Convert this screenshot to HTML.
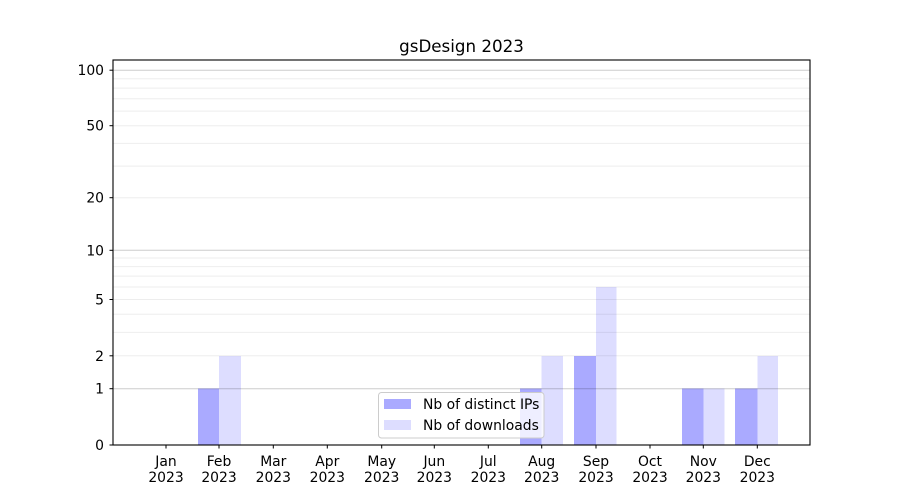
<!DOCTYPE html>
<html><head><meta charset="utf-8"><style>
html,body{margin:0;padding:0;background:#fff;}
svg{display:block;}
text{font-family:"DejaVu Sans","Liberation Sans",sans-serif;fill:#000;}
</style></head><body>
<svg width="900" height="500" viewBox="0 0 900 500" xmlns="http://www.w3.org/2000/svg">
<rect x="0" y="0" width="900" height="500" fill="#fff"/>
<!-- bars -->
<g shape-rendering="crispEdges">
<rect x="198" y="388.7" width="21" height="56.3" fill="#aaaaff"/>
<rect x="219" y="355.8" width="22" height="89.2" fill="#ddddff"/>
<rect x="520" y="388.7" width="21.7" height="56.3" fill="#aaaaff"/>
<rect x="541.7" y="355.8" width="21.3" height="89.2" fill="#ddddff"/>
<rect x="574" y="355.8" width="22" height="89.2" fill="#aaaaff"/>
<rect x="596" y="287" width="20.7" height="158" fill="#ddddff"/>
<rect x="682" y="388.7" width="21.3" height="56.3" fill="#aaaaff"/>
<rect x="703.3" y="388.7" width="21.4" height="56.3" fill="#ddddff"/>
<rect x="735" y="388.7" width="22.3" height="56.3" fill="#aaaaff"/>
<rect x="757.3" y="355.8" width="20.7" height="89.2" fill="#ddddff"/>
</g>
<!-- minor grid -->
<g stroke="#000" stroke-opacity="0.07" stroke-width="1">
<line x1="113" x2="810" y1="355.8" y2="355.8"/>
<line x1="113" x2="810" y1="332.4" y2="332.4"/>
<line x1="113" x2="810" y1="314.3" y2="314.3"/>
<line x1="113" x2="810" y1="299.5" y2="299.5"/>
<line x1="113" x2="810" y1="287" y2="287"/>
<line x1="113" x2="810" y1="276.1" y2="276.1"/>
<line x1="113" x2="810" y1="266.6" y2="266.6"/>
<line x1="113" x2="810" y1="258" y2="258"/>
<line x1="113" x2="810" y1="197.7" y2="197.7"/>
<line x1="113" x2="810" y1="166.1" y2="166.1"/>
<line x1="113" x2="810" y1="143.4" y2="143.4"/>
<line x1="113" x2="810" y1="125.7" y2="125.7"/>
<line x1="113" x2="810" y1="111.1" y2="111.1"/>
<line x1="113" x2="810" y1="98.8" y2="98.8"/>
<line x1="113" x2="810" y1="88.1" y2="88.1"/>
<line x1="113" x2="810" y1="78.7" y2="78.7"/>
</g>
<!-- major grid -->
<g stroke="#000" stroke-opacity="0.2" stroke-width="1">
<line x1="113" x2="810" y1="388.7" y2="388.7"/>
<line x1="113" x2="810" y1="250.3" y2="250.3"/>
<line x1="113" x2="810" y1="70.2" y2="70.2"/>
</g>
<!-- axes frame -->
<rect x="113" y="60" width="697" height="385" fill="none" stroke="#000" stroke-width="1.1"/>
<!-- y ticks -->
<g stroke="#000" stroke-width="1">
<line x1="109.5" x2="113" y1="445" y2="445"/>
<line x1="109.5" x2="113" y1="388.7" y2="388.7"/>
<line x1="109.5" x2="113" y1="355.8" y2="355.8"/>
<line x1="109.5" x2="113" y1="299.5" y2="299.5"/>
<line x1="109.5" x2="113" y1="250.3" y2="250.3"/>
<line x1="109.5" x2="113" y1="197.7" y2="197.7"/>
<line x1="109.5" x2="113" y1="125.7" y2="125.7"/>
<line x1="109.5" x2="113" y1="70.2" y2="70.2"/>
</g>
<g font-size="13.9" text-anchor="end">
<text x="104" y="450">0</text>
<text x="104" y="393.7">1</text>
<text x="104" y="360.8">2</text>
<text x="104" y="304.5">5</text>
<text x="104" y="255.3">10</text>
<text x="104" y="202.7">20</text>
<text x="104" y="130.7">50</text>
<text x="104" y="75.2">100</text>
</g>
<!-- x ticks -->
<g stroke="#000" stroke-width="1">
<line x1="166" x2="166" y1="445" y2="448.5"/>
<line x1="219" x2="219" y1="445" y2="448.5"/>
<line x1="273.3" x2="273.3" y1="445" y2="448.5"/>
<line x1="327.3" x2="327.3" y1="445" y2="448.5"/>
<line x1="381.7" x2="381.7" y1="445" y2="448.5"/>
<line x1="434.3" x2="434.3" y1="445" y2="448.5"/>
<line x1="488.3" x2="488.3" y1="445" y2="448.5"/>
<line x1="541.7" x2="541.7" y1="445" y2="448.5"/>
<line x1="596" x2="596" y1="445" y2="448.5"/>
<line x1="650" x2="650" y1="445" y2="448.5"/>
<line x1="703.3" x2="703.3" y1="445" y2="448.5"/>
<line x1="757.3" x2="757.3" y1="445" y2="448.5"/>
</g>
<g font-size="13.9" text-anchor="middle">
<text x="166" y="466">Jan</text><text x="166" y="482">2023</text>
<text x="219" y="466">Feb</text><text x="219" y="482">2023</text>
<text x="273.3" y="466">Mar</text><text x="273.3" y="482">2023</text>
<text x="327.3" y="466">Apr</text><text x="327.3" y="482">2023</text>
<text x="381.7" y="466">May</text><text x="381.7" y="482">2023</text>
<text x="434.3" y="466">Jun</text><text x="434.3" y="482">2023</text>
<text x="488.3" y="466">Jul</text><text x="488.3" y="482">2023</text>
<text x="541.7" y="466">Aug</text><text x="541.7" y="482">2023</text>
<text x="596" y="466">Sep</text><text x="596" y="482">2023</text>
<text x="650" y="466">Oct</text><text x="650" y="482">2023</text>
<text x="703.3" y="466">Nov</text><text x="703.3" y="482">2023</text>
<text x="757.3" y="466">Dec</text><text x="757.3" y="482">2023</text>
</g>
<!-- title -->
<text x="461.5" y="52" font-size="16.7" text-anchor="middle">gsDesign 2023</text>
<!-- legend -->
<rect x="378.5" y="392.5" width="165.5" height="45.5" rx="3" ry="3" fill="#fff" fill-opacity="0.8" stroke="#cccccc" stroke-width="1"/>
<rect x="384" y="399" width="27" height="10" fill="#aaaaff"/>
<rect x="384" y="420" width="27" height="10" fill="#ddddff"/>
<g font-size="13.9">
<text x="423" y="409">Nb of distinct IPs</text>
<text x="423" y="430">Nb of downloads</text>
</g>
</svg>
</body></html>
